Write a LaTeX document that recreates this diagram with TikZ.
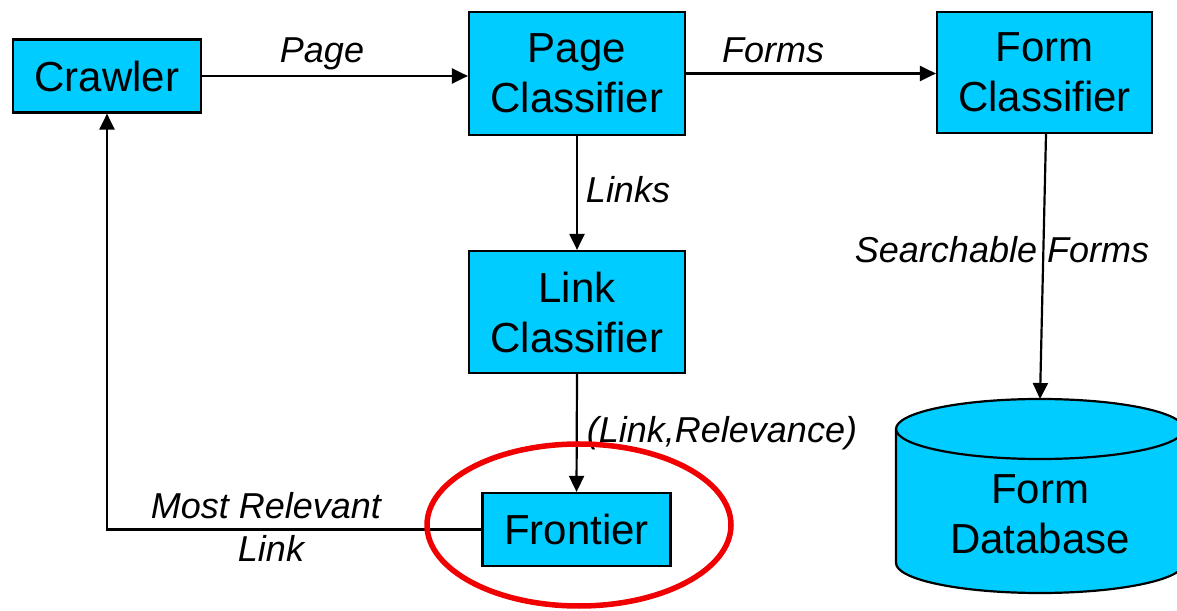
\documentclass[tikz,border=0pt]{standalone}
\usepackage{fontspec}
\setmainfont{Liberation Sans}
\usetikzlibrary{arrows.meta}
\definecolor{boxcyan}{RGB}{0,204,255}
\definecolor{ringred}{RGB}{240,0,0}
\begin{document}
\begin{tikzpicture}[x=1pt,y=1pt,
  stagebox/.style={draw=black, line width=2.2pt, fill=boxcyan, inner sep=0pt,
    align=center, font=\fontsize{42}{50}\selectfont},
  flow/.style={line width=2.2pt, -{Triangle[length=16pt,width=15pt]}},
  flowlabel/.style={anchor=base, inner sep=0pt, font=\fontsize{36}{43}\selectfont\itshape}]
\useasboundingbox (0,0) rectangle (1177,610);

% processing stages
\node[stagebox, minimum width=188, minimum height=73] (crawler) at (107,534) {Crawler};
\node[stagebox, minimum width=216, minimum height=123] (pagec) at (577,536.5) {Page\\Classifier};
\node[stagebox, minimum width=215, minimum height=121] (formc) at (1044.5,537.5) {Form\\Classifier};
\node[stagebox, minimum width=216, minimum height=122] (linkc) at (577,298) {Link\\Classifier};
\node[stagebox, minimum width=188, minimum height=73] (frontier) at (576.5,80.5) {Frontier};

% form database cylinder
\filldraw[line width=2.2pt, fill=boxcyan]
  (896,181) -- (896,47) arc[start angle=180, end angle=360, x radius=144, y radius=30]
  -- (1184,181) arc[start angle=0, end angle=180, x radius=144, y radius=30] -- cycle;
\draw[line width=2.2pt] (896,181) arc[start angle=180, end angle=360, x radius=144, y radius=30];
\coordinate (dbtop) at (1040,211);
\node[align=center, inner sep=0pt, font=\fontsize{42}{50}\selectfont] (db) at (1040,96) {Form\\Database};

% connectors
\draw[flow] (crawler.east) -- (crawler.east -| pagec.west);
\draw[flow] (pagec.east) -- (pagec.east -| formc.west);
\draw[flow] (pagec.south) -- (linkc.north);
\draw[flow] ([xshift=1.5pt]formc.south) -- (dbtop);
\draw[flow] (linkc.south) -- (frontier.north);
\draw[flow] (frontier.west) -| (crawler.south);

% connector labels
\node[flowlabel] (lpage) at (322,547) {Page};
\node[flowlabel] (lforms) at (773,547) {Forms};
\node[flowlabel] (llinks) at (628,407) {Links};
\node[flowlabel] (lsearch) at (1002,347) {Searchable Forms};
\node[flowlabel] (lrel) at (722,167) {(Link,Relevance)};
\node[flowlabel] (lmost1) at (266,91) {Most Relevant};
\node[flowlabel] (lmost2) at (271,48) {Link};

% highlight ring
\draw[ringred, line width=5.5pt] (579,85) ellipse[x radius=152, y radius=81];
\end{tikzpicture}
\end{document}
